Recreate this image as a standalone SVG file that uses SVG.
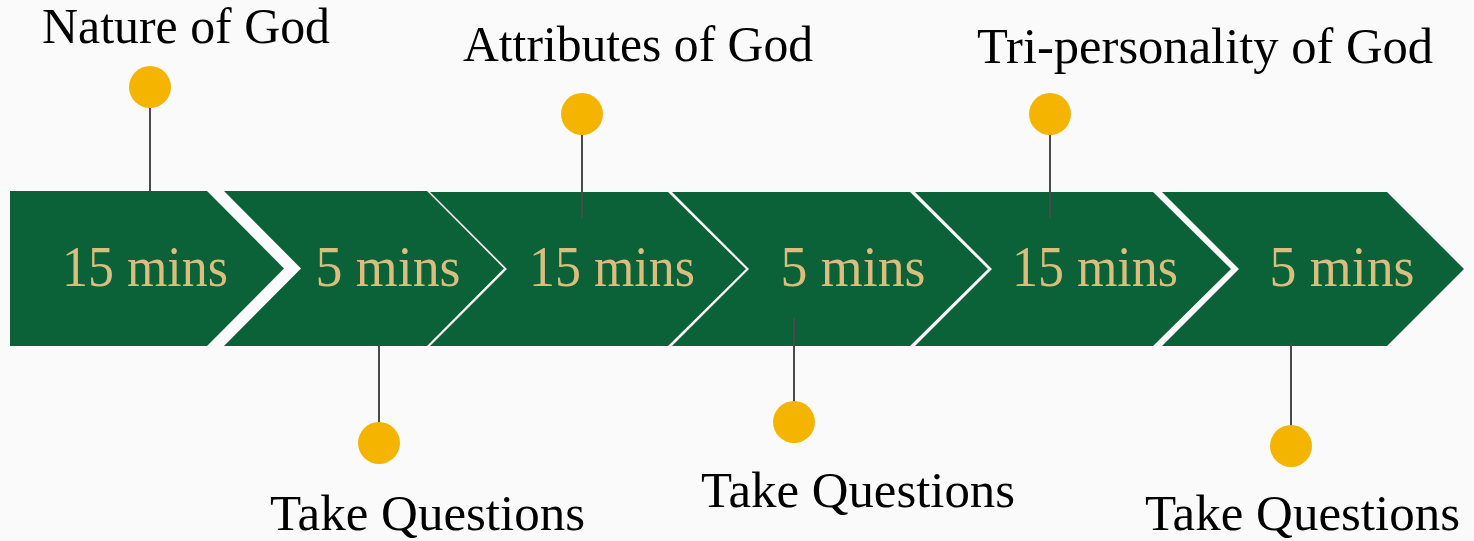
<svg xmlns="http://www.w3.org/2000/svg" width="1474" height="541" viewBox="0 0 1474 541">
<style>
.chev{fill:#0B6238;stroke:none}
.mins{font-family:"Liberation Serif","Times New Roman",serif;font-size:57px;fill:#D9BE7E;text-anchor:middle}
.lbl{font-family:"Liberation Serif","Times New Roman",serif;font-size:50px;fill:#000;text-anchor:middle}
.stem{stroke:#4A4A4A;stroke-width:2;fill:none}
.dot{fill:#F5B400}
</style>
<rect width="1474" height="541" fill="#FAFAFA"/>
<g id="step1">
<polygon class="chev" points="10,191 207,191 284,268.5 207,346 10,346"/>
<text class="mins" x="145" y="286" textLength="166" lengthAdjust="spacingAndGlyphs">15 mins</text>
</g>
<g id="step2">
<polygon class="chev" points="224,191 427,191 504,268.5 427,346 224,346 301,268.5"/>
<text class="mins" x="388" y="286" textLength="145" lengthAdjust="spacingAndGlyphs">5 mins</text>
</g>
<g id="step3">
<polygon class="chev" points="430,192 668,192 746,269 668,346 430,346 507,269"/>
<text class="mins" x="612" y="286" textLength="166" lengthAdjust="spacingAndGlyphs">15 mins</text>
</g>
<g id="step4">
<polygon class="chev" points="672,192 910,192 988,269 910,346 672,346 749,269"/>
<text class="mins" x="853" y="286" textLength="145" lengthAdjust="spacingAndGlyphs">5 mins</text>
</g>
<g id="step5">
<polygon class="chev" points="915,192 1153,192 1231,269 1153,346 915,346 992,269"/>
<text class="mins" x="1095" y="286" textLength="166" lengthAdjust="spacingAndGlyphs">15 mins</text>
</g>
<g id="step6">
<polygon class="chev" points="1162,192 1387,192 1464,269 1387,346 1162,346 1239,269"/>
<text class="mins" x="1342" y="286" textLength="145" lengthAdjust="spacingAndGlyphs">5 mins</text>
</g>
<g id="connectors">
<line class="stem" x1="150" y1="87" x2="150" y2="191"/>
<line class="stem" x1="582" y1="114" x2="582" y2="218"/>
<line class="stem" x1="1050" y1="114" x2="1050" y2="218"/>
<line class="stem" x1="379" y1="345" x2="379" y2="443"/>
<line class="stem" x1="794" y1="318" x2="794" y2="422"/>
<line class="stem" x1="1291" y1="343" x2="1291" y2="446"/>
</g>
<g id="pin-nature">
<circle class="dot" cx="150" cy="87" r="21"/>
<text class="lbl" x="186" y="43" textLength="288" lengthAdjust="spacingAndGlyphs">Nature of God</text>
</g>
<g id="pin-attributes">
<circle class="dot" cx="582" cy="114" r="21"/>
<text class="lbl" x="638" y="61" textLength="350" lengthAdjust="spacingAndGlyphs">Attributes of God</text>
</g>
<g id="pin-tri">
<circle class="dot" cx="1050" cy="114" r="21"/>
<text class="lbl" x="1205" y="63" textLength="456" lengthAdjust="spacingAndGlyphs">Tri-personality of God</text>
</g>
<g id="pin-q1">
<circle class="dot" cx="379" cy="443" r="21"/>
<text class="lbl" x="427.5" y="530" textLength="315" lengthAdjust="spacingAndGlyphs">Take Questions</text>
</g>
<g id="pin-q2">
<circle class="dot" cx="794" cy="422" r="21"/>
<text class="lbl" x="858" y="507" textLength="314" lengthAdjust="spacingAndGlyphs">Take Questions</text>
</g>
<g id="pin-q3">
<circle class="dot" cx="1291" cy="446" r="21"/>
<text class="lbl" x="1302.5" y="530" textLength="315" lengthAdjust="spacingAndGlyphs">Take Questions</text>
</g>
</svg>
